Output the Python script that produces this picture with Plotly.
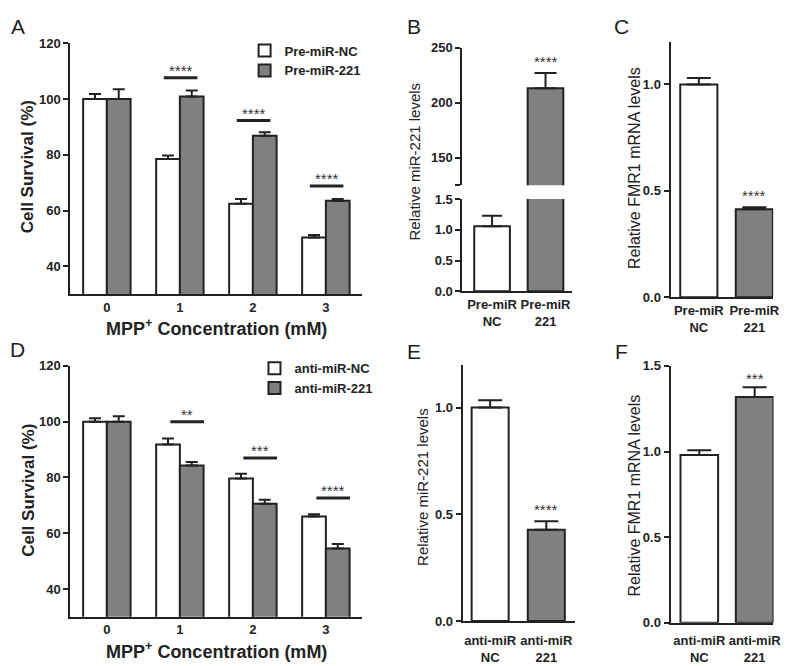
import plotly.graph_objects as go

W, H = 791, 666

# ---------------- data ----------------
conc_x = [0, 1, 2, 3]
conc_labels = ["0", "1", "2", "3"]

a_nc = [100.0, 78.5, 62.5, 50.4]
a_nc_err = [1.8, 1.3, 1.7, 0.9]
a_221 = [100.0, 100.9, 86.9, 63.5]
a_221_err = [3.5, 2.2, 1.2, 0.7]
a_sig_groups = [1, 2, 3]
a_sig_level = [107.7, 92.3, 68.8]
a_sig_text = ["****", "****", "****"]

d_nc = [100.0, 91.8, 79.6, 66.0]
d_nc_err = [1.2, 2.2, 1.7, 0.8]
d_221 = [100.0, 84.3, 70.6, 54.5]
d_221_err = [1.9, 1.2, 1.4, 1.6]
d_sig_groups = [1, 2, 3]
d_sig_level = [100.0, 87.0, 72.6]
d_sig_text = ["**", "***", "****"]

pair_x = [0, 1]
pre_labels = ["Pre-miR<br>NC", "Pre-miR<br>221"]
anti_labels = ["anti-miR<br>NC", "anti-miR<br>221"]

b_vals = [1.06, 213.0]
b_err = [0.17, 14.0]
b_sig = ["", "****"]

c_vals = [1.0, 0.413]
c_err = [0.03, 0.01]
c_sig = ["", "****"]

e_vals = [1.0, 0.428]
e_err = [0.034, 0.039]
e_sig = ["", "****"]

f_vals = [0.98, 1.318]
f_err = [0.028, 0.057]
f_sig = ["", "***"]

# ---------------- style ----------------
INK = "#222222"
GRAY = "#808080"
FONT = "Arial, Liberation Sans, sans-serif"
pair_colors = ["white", GRAY]


def xd(a, b):
    return [a / W, b / W]


def yd(top, bottom):
    return [1 - bottom / H, 1 - top / H]


fig = go.Figure()


def err(arr, width):
    return dict(type="data", array=arr, arrayminus=[0] * len(arr), symmetric=False,
                color=INK, thickness=2, width=width)


# ---- grouped panels A and D ----
def grouped(xa, ya, nc, nce, m, me, names, legend):
    fig.add_trace(go.Bar(x=conc_x, y=nc, name=names[0], xaxis=xa, yaxis=ya,
                         marker=dict(color="white", line=dict(color=INK, width=2)),
                         error_y=err(nce, 6), legend=legend, showlegend=True))
    fig.add_trace(go.Bar(x=conc_x, y=m, name=names[1], xaxis=xa, yaxis=ya,
                         marker=dict(color=GRAY, line=dict(color=INK, width=2)),
                         error_y=err(me, 6), legend=legend, showlegend=True))


grouped("x", "y", a_nc, a_nc_err, a_221, a_221_err, ["Pre-miR-NC", "Pre-miR-221"], "legend")
grouped("x5", "y5", d_nc, d_nc_err, d_221, d_221_err, ["anti-miR-NC", "anti-miR-221"], "legend2")


def sig_lines(xa, ya, groups, levels, texts, off):
    xs, ys = [], []
    for g, lv in zip(groups, levels):
        xs += [g + off - 0.23, g + off + 0.23, None]
        ys += [lv, lv, None]
    fig.add_trace(go.Scatter(x=xs, y=ys, mode="lines", xaxis=xa, yaxis=ya,
                             line=dict(color=INK, width=3), showlegend=False,
                             hoverinfo="skip"))
    for g, lv, t in zip(groups, levels, texts):
        fig.add_annotation(x=g + off, y=lv, xref=xa, yref=ya, text=t, showarrow=False,
                           yanchor="bottom", yshift=-3,
                           font=dict(size=15, color="#333333", family=FONT))


sig_lines("x", "y", a_sig_groups, a_sig_level, a_sig_text, 0.01)
sig_lines("x5", "y5", d_sig_groups, d_sig_level, d_sig_text, 0.1)


# ---- two-bar panels ----
def pair(xa, ya, vals, errs, width, capw):
    fig.add_trace(go.Bar(x=pair_x, y=vals, xaxis=xa, yaxis=ya, width=width,
                         marker=dict(color=pair_colors, line=dict(color=INK, width=2)),
                         error_y=err(errs, capw), showlegend=False))


def pair_sig(xa, ya, vals, errs, sig, shift):
    for x, v, e, t in zip(pair_x, vals, errs, sig):
        if t:
            fig.add_annotation(x=x, y=v + e, xref=xa, yref=ya, text=t, showarrow=False,
                               yanchor="bottom", yshift=shift,
                               font=dict(size=15, color="#333333", family=FONT))


pair("x2", "y2", b_vals, b_err, 0.667, 10)   # B lower segment
pair("x3", "y3", b_vals, b_err, 0.667, 11)   # B upper segment
pair_sig("x3", "y3", b_vals, b_err, b_sig, 1)
pair("x4", "y4", c_vals, c_err, 0.67, 12)
pair_sig("x4", "y4", c_vals, c_err, c_sig, 1)
pair("x6", "y6", e_vals, e_err, 0.66, 12)
pair_sig("x6", "y6", e_vals, e_err, e_sig, 1)
pair("x7", "y7", f_vals, f_err, 0.68, 12)
pair_sig("x7", "y7", f_vals, f_err, f_sig, -2)

# ---------------- axes ----------------
tickfont = dict(size=13, color=INK, family=FONT, weight="bold")
yax = dict(showgrid=False, zeroline=False, showline=True, linewidth=2, linecolor=INK,
           ticks="outside", ticklen=5, tickwidth=2, tickcolor=INK, tickfont=tickfont)
xax = dict(showgrid=False, zeroline=False, showline=True, linewidth=2, linecolor=INK,
           ticks="", tickfont=tickfont, tickmode="array")

fig.update_layout(
    width=W, height=H, autosize=False,
    margin=dict(l=0, r=0, t=0, b=0),
    paper_bgcolor="white", plot_bgcolor="rgba(0,0,0,0)",
    barmode="group", bargap=0.35, bargroupgap=0,
    font=dict(family=FONT, color=INK),
    # A
    xaxis=dict(xax, domain=xd(63, 358), range=[-0.5, 3.5], tickvals=conc_x,
               ticktext=conc_labels, anchor="y"),
    yaxis=dict(yax, domain=yd(29, 285.7), range=[30, 120], tickvals=[40, 60, 80, 100, 120],
               anchor="x"),
    # B lower
    xaxis2=dict(xax, domain=xd(459, 570), range=[-0.556, 1.5], tickvals=pair_x,
                ticktext=pre_labels, anchor="y2"),
    yaxis2=dict(yax, domain=yd(188.3, 282.7), range=[0, 1.5], tickvals=[0, 0.5, 1.0, 1.5],
                ticktext=["0.0", "0.5", "1.0", "1.5"], anchor="x2"),
    # B upper
    xaxis3=dict(xax, domain=xd(459, 570), range=[-0.556, 1.5], visible=False, anchor="y3"),
    yaxis3=dict(yax, domain=yd(33.3, 174.3), range=[125, 250], tickvals=[150, 200, 250],
                ticktext=["150", "200", "250"], anchor="x3",
                minor=dict(tickmode="array", tickvals=[125], ticks="outside", ticklen=5,
                           tickwidth=2, tickcolor=INK)),
    # C
    xaxis4=dict(xax, domain=xd(669.3, 773), range=[-0.51, 1.34], tickvals=pair_x,
                ticktext=pre_labels, anchor="y4"),
    yaxis4=dict(yax, domain=yd(27.5, 288.7), range=[0, 1.2], tickvals=[0, 0.5, 1.0],
                ticktext=["0.0", "0.5", "1.0"], anchor="x4"),
    # D
    xaxis5=dict(xax, domain=xd(63, 358), range=[-0.5, 3.5], tickvals=conc_x,
                ticktext=conc_labels, anchor="y5"),
    yaxis5=dict(yax, domain=yd(359, 615.7), range=[30, 120], tickvals=[40, 60, 80, 100, 120],
                anchor="x5"),
    # E
    xaxis6=dict(xax, domain=xd(459.3, 572.7), range=[-0.49, 1.51], tickvals=pair_x,
                ticktext=anti_labels, anchor="y6", ticklabelstandoff=6),
    yaxis6=dict(yax, domain=yd(358, 620), range=[0, 1.2], tickvals=[0, 0.5, 1.0],
                ticktext=["0.0", "0.5", "1.0"], anchor="x6"),
    # F
    xaxis7=dict(xax, domain=xd(669.3, 773.3), range=[-0.52, 1.34], tickvals=pair_x,
                ticktext=anti_labels, anchor="y7", ticklabelstandoff=5),
    yaxis7=dict(yax, domain=yd(359, 621.7), range=[0, 1.5], tickvals=[0, 0.5, 1.0, 1.5],
                ticktext=["0.0", "0.5", "1.0", "1.5"], anchor="x7"),
    legend=dict(x=239 / W, xanchor="left", y=1 - 21 / H, yanchor="top",
                bgcolor="rgba(0,0,0,0)", borderwidth=0,
                font=dict(size=13, color=INK, family=FONT, weight="bold")),
    legend2=dict(x=249 / W, xanchor="left", y=1 - 346 / H, yanchor="top",
                 bgcolor="rgba(0,0,0,0)", borderwidth=0,
                 font=dict(size=13, color=INK, family=FONT, weight="bold")),
)


# ---------------- titles & panel letters ----------------
def txt(x, y, t, size, bold=False, angle=0):
    fig.add_annotation(x=x / W, y=1 - y / H, xref="paper", yref="paper", text=t,
                       showarrow=False, textangle=angle, xanchor="center", yanchor="middle",
                       font=dict(size=size, color=INK, family=FONT,
                                 weight="bold" if bold else "normal"))


for letter, lx, ly in [("A", 10, 12), ("B", 410, 12), ("C", 620, 12),
                       ("D", 10, 342), ("E", 410, 344), ("F", 620, 344)]:
    txt(lx, ly, letter, 21)

mpp = "MPP<sup>+</sup> Concentration (mM)"
txt(211, 320, mpp, 18, bold=True)
txt(211, 650, mpp, 18, bold=True)
txt(20, 155, "Cell Survival (%)", 17, bold=True, angle=-90)
txt(20, 486, "Cell Survival (%)", 17, bold=True, angle=-90)
txt(411, 150, "Relative miR-221 levels", 15, angle=-90)
txt(633, 157, "Relative FMR1 mRNA levels", 16, angle=-90)
txt(418, 483, "Relative miR-221 levels", 15, angle=-90)
txt(633, 492, "Relative FMR1 mRNA levels", 16, angle=-90)

fig.write_html("out.html")
